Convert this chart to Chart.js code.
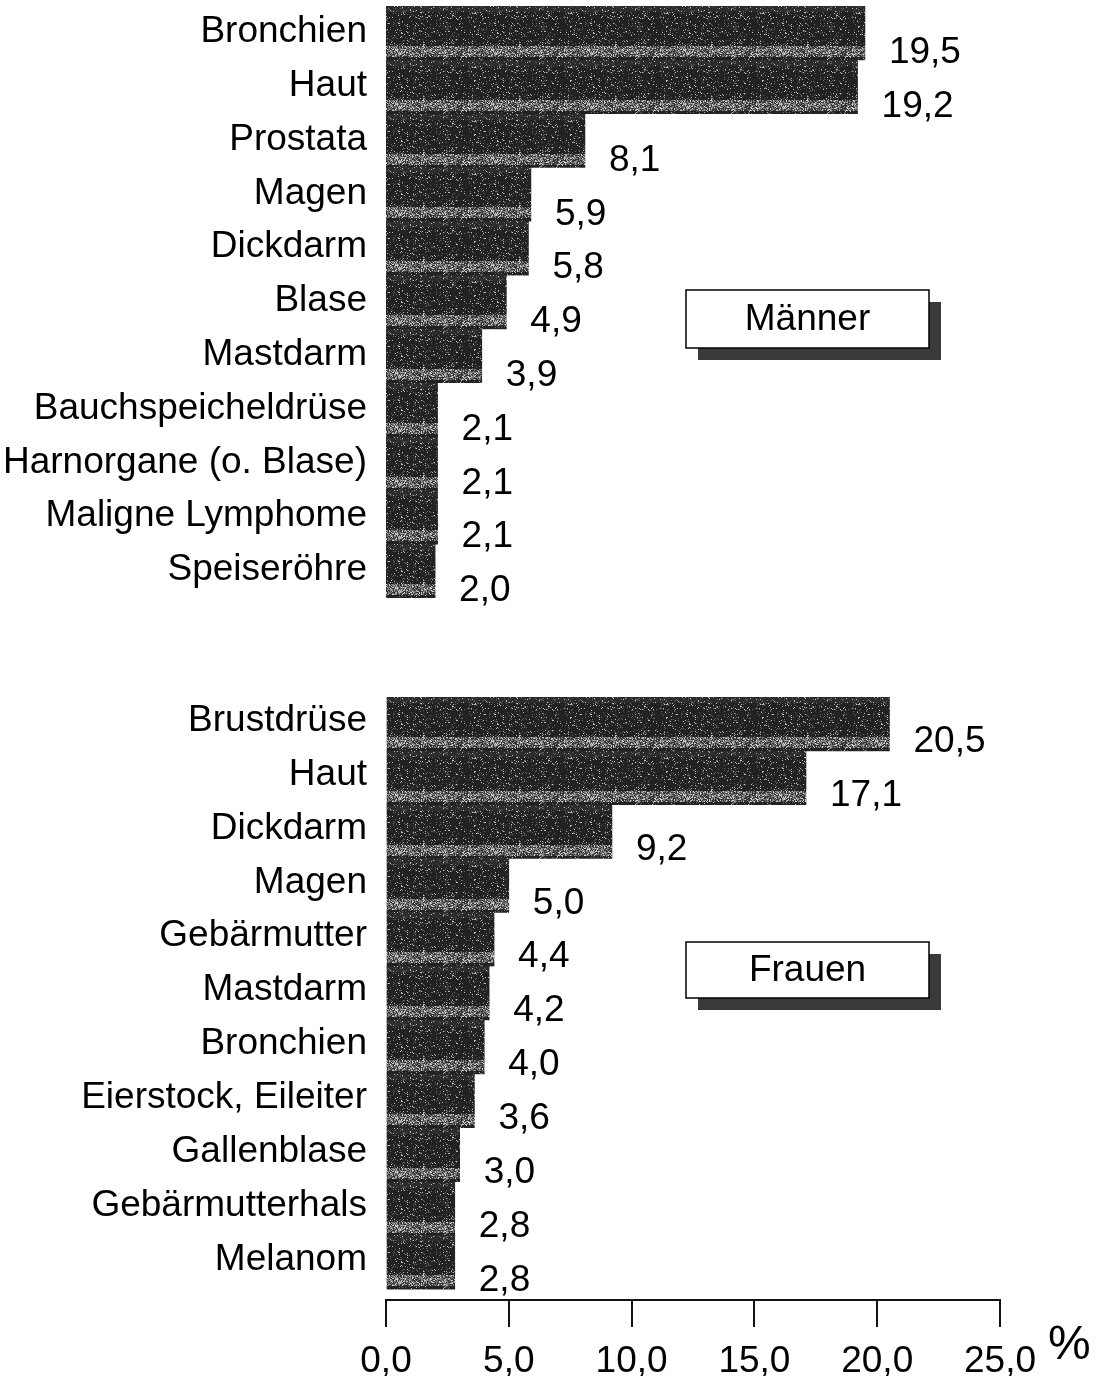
<!DOCTYPE html>
<html>
<head>
<meta charset="utf-8">
<script src="https://cdn.jsdelivr.net/npm/chart.js@4/dist/chart.umd.min.js"></script>
<style>
  html, body { margin: 0; padding: 0; background: #fff; }
  #wrap { position: relative; width: 1098px; height: 1376px; }
  #c1 { position: absolute; left: 0; top: 0; }
  #c2 { position: absolute; left: 0; top: 640px; }
</style>
</head>
<body>
<div id="wrap">
  <canvas id="c1" width="1098" height="640"></canvas>
  <canvas id="c2" width="1098" height="736"></canvas>
</div>
<script>
// ---- Data ----
const menCategories = ["Bronchien", "Haut", "Prostata", "Magen", "Dickdarm", "Blase", "Mastdarm",
  "Bauchspeicheldrüse", "Harnorgane (o. Blase)", "Maligne Lymphome", "Speiseröhre"];
const menValues = [19.5, 19.2, 8.1, 5.9, 5.8, 4.9, 3.9, 2.1, 2.1, 2.1, 2.0];
const womenCategories = ["Brustdrüse", "Haut", "Dickdarm", "Magen", "Gebärmutter", "Mastdarm", "Bronchien",
  "Eierstock, Eileiter", "Gallenblase", "Gebärmutterhals", "Melanom"];
const womenValues = [20.5, 17.1, 9.2, 5.0, 4.4, 4.2, 4.0, 3.6, 3.0, 2.8, 2.8];
const xTicks = [0, 5, 10, 15, 20, 25];
const menTitle = "Männer";
const womenTitle = "Frauen";
const unitLabel = "%";

const FONT = "'Liberation Sans', Arial, Helvetica, sans-serif";
const FS = 37;
const fmt = v => v.toFixed(1).replace('.', ',');

// deterministic stipple hash for the printed-screen look of the bars
function hash(i, j) {
  const s = Math.sin(i * 12.9898 + j * 78.233) * 43758.5453;
  return s - Math.floor(s);
}

function makeTile(h) {
  const w = 96;
  const c = document.createElement('canvas');
  c.width = w; c.height = Math.max(1, Math.round(h));
  const x = c.getContext('2d');
  const H = c.height;
  for (let j = 0; j < H; j++) {
    const t = j / H;
    const inBand = t > 0.74 && t < 0.94;
    x.fillStyle = inBand ? '#7e7e7e' : (t < 0.1 ? '#2c2c2c' : '#222');
    x.fillRect(0, j, w, 1);
    for (let i = 0; i < w; i++) {
      const r = hash(i, j);
      if (inBand) {
        if (r < 0.45) { x.fillStyle = '#333'; x.fillRect(i, j, 1, 1); }
        else if (r > 0.82) { x.fillStyle = '#cfcfcf'; x.fillRect(i, j, 1, 1); }
      } else if (r > 0.88) {
        x.fillStyle = r > 0.96 ? '#bdbdbd' : '#676767';
        x.fillRect(i, j, 1, 1);
      }
    }
  }
  return c;
}

// Shades each bar (already laid out by Chart.js) with an aligned stipple pattern
const barShading = {
  id: 'barShading',
  beforeDatasetsDraw(chart) {
    const ctx = chart.ctx;
    chart.getDatasetMeta(0).data.forEach(el => {
      const top = el.y - Math.abs(el.height) / 2;
      const h = Math.abs(el.height);
      if (!isFinite(top) || !isFinite(h) || h === 0) return;
      const pat = ctx.createPattern(makeTile(h), 'repeat');
      pat.setTransform(new DOMMatrix().translate(0, Math.round(top)));
      el.options.backgroundColor = pat;
    });
  }
};

function valueLabels(offsetY) {
  return {
    id: 'valueLabels',
    afterDatasetsDraw(chart) {
      const ctx = chart.ctx;
      const meta = chart.getDatasetMeta(0);
      const vals = chart.data.datasets[0].data;
      ctx.save();
      ctx.font = FS + "px " + FONT;
      ctx.fillStyle = '#000';
      ctx.textAlign = 'left';
      ctx.textBaseline = 'middle';
      meta.data.forEach((el, i) => {
        ctx.fillText(fmt(vals[i].x), el.x + 24, el.y + offsetY);
      });
      ctx.restore();
    }
  };
}

function titleBox(text, x, y, w, h) {
  return {
    id: 'titleBox',
    afterDraw(chart) {
      const ctx = chart.ctx;
      ctx.save();
      ctx.fillStyle = '#3a3a3a';
      ctx.fillRect(x + 12, y + 12, w, h);
      ctx.fillStyle = '#fff';
      ctx.fillRect(x, y, w, h);
      ctx.strokeStyle = '#000';
      ctx.lineWidth = 1.5;
      ctx.strokeRect(x, y, w, h);
      ctx.fillStyle = '#000';
      ctx.font = FS + "px " + FONT;
      ctx.textAlign = 'center';
      ctx.textBaseline = 'middle';
      ctx.fillText(text, x + w / 2, y + h / 2 + 1);
      ctx.restore();
    }
  };
}

function makeChart(canvasId, cats, vals, opts) {
  return new Chart(document.getElementById(canvasId), {
    type: 'bar',
    data: {
      datasets: [{
        data: vals.map((v, i) => ({ x: v, y: i })),
        backgroundColor: () => '#262626',
        borderWidth: 0,
        barPercentage: 1,
        categoryPercentage: 1
      }]
    },
    options: {
      indexAxis: 'y',
      responsive: false,
      animation: false,
      layout: { padding: opts.padding },
      plugins: { legend: { display: false }, tooltip: { enabled: false } },
      scales: {
        y: {
          type: 'linear',
          reverse: true,
          offset: false,
          min: -0.5,
          max: opts.yMax,
          afterFit(s) { s.width = 386; s.paddingTop = 0; s.paddingBottom = 0; },
          afterBuildTicks(s) { s.ticks = cats.map((c, i) => ({ value: i })); },
          ticks: {
            includeBounds: false,
            autoSkip: false,
            stepSize: 1,
            padding: 19,
            labelOffset: opts.labelOffset,
            color: '#000',
            font: { family: FONT, size: FS },
            callback: v => cats[v] !== undefined ? cats[v] : ''
          },
          grid: { display: false, drawTicks: false },
          border: { display: false }
        },
        x: opts.xScale
      }
    },
    plugins: [barShading].concat(opts.plugins)
  });
}

// Top chart (Männer)
makeChart('c1', menCategories, menValues, {
  padding: { left: 0, right: 98, top: 6, bottom: 42 },
  yMax: 10.5,
  labelOffset: -1,
  xScale: { type: 'linear', min: 0, max: 25, display: false, afterFit(s) { s.paddingLeft = 0; s.paddingRight = 0; } },
  plugins: [valueLabels(20), titleBox(menTitle, 686, 290, 243, 58)]
});

// Bottom chart (Frauen) with x axis
makeChart('c2', womenCategories, womenValues, {
  padding: { left: 0, right: 98, top: 57, bottom: 0 },
  yMax: 10.7,
  labelOffset: -3,
  xScale: {
    type: 'linear', min: 0, max: 25,
    afterFit(s) { s.height = 76; s.paddingLeft = 0; s.paddingRight = 0; },
    afterBuildTicks(s) { s.ticks = xTicks.map(v => ({ value: v })); },
    ticks: {
      padding: 13,
      color: '#000',
      maxRotation: 0,
      font: { family: FONT, size: FS },
      callback: v => fmt(v)
    },
    grid: { drawOnChartArea: false, drawTicks: true, tickLength: 27, color: '#111', lineWidth: 2 },
    border: { display: true, color: '#111', width: 2 }
  },
  plugins: [valueLabels(18), titleBox(womenTitle, 686, 302, 243, 56), {
    id: 'unit',
    afterDraw(chart) {
      const ctx = chart.ctx;
      ctx.save();
      ctx.fillStyle = '#000';
      ctx.font = "48px " + FONT;
      ctx.textAlign = 'left';
      ctx.textBaseline = 'middle';
      ctx.fillText(unitLabel, 1048, 1346 - 640);
      ctx.restore();
    }
  }]
});
</script>
</body>
</html>
